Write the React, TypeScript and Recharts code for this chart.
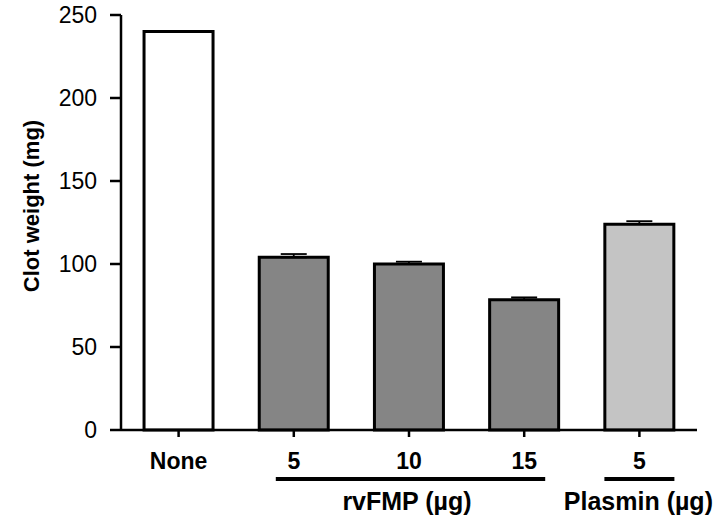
import React from 'react';
import { BarChart, Bar, XAxis, YAxis, Cell, ErrorBar } from 'recharts';

// categories along the x axis (keys must be unique, labels repeat)
const categoryKeys = ['none', 'rv5', 'rv10', 'rv15', 'pl5'];
const categoryLabels = ['None', '5', '10', '15', '5'];
// clot weight (mg) and upper SEM
const clotWeight = [240, 104, 100, 78.5, 124];
const clotError = [0, 2, 1.4, 1.4, 1.8];
const barFills = ['#ffffff', '#858585', '#858585', '#858585', '#c4c4c4'];
const yTicks = [0, 50, 100, 150, 200, 250];

// treatment groups drawn under the tick labels
const groups = [
  { name: 'rvFMP (µg)', from: 1, to: 3, start: -18, end: 21, shift: -2 },
  { name: 'Plasmin (µg)', from: 4, to: 4, start: -35, end: 35, shift: -1 },
];

const data = categoryKeys.map((k, i) => ({
  key: k,
  label: categoryLabels[i],
  weight: clotWeight[i],
  err: [0, clotError[i]],
}));

const FONT = 'Arial, "Liberation Sans", Helvetica, sans-serif';
const BAND = 115.2;

const XTick = ({ x, y, index }: any) => {
  return (
    <g>
      <text
        x={x}
        y={y + 30}
        textAnchor="middle"
        fontFamily={FONT}
        fontSize={23}
        fontWeight="bold"
        fill="#000"
      >
        {categoryLabels[index]}
      </text>
      {groups.map((g) => {
        if (index !== g.from) return null;
        const span = (g.to - g.from) * BAND;
        return (
          <g key={g.name}>
            <line
              x1={x + g.start}
              x2={x + span + g.end}
              y1={y + 40}
              y2={y + 40}
              stroke="#000"
              strokeWidth={4}
            />
            <text
              x={x + span / 2 + g.shift}
              y={y + 71}
              textAnchor="middle"
              fontFamily={FONT}
              fontSize={25}
              fontWeight="bold"
              fill="#000"
            >
              {g.name}
            </text>
          </g>
        );
      })}
    </g>
  );
};

const YLabel = ({ viewBox }: any) => {
  const cx = viewBox.x + 39;
  const cy = 206;
  return (
    <text
      x={cx}
      y={cy}
      transform={`rotate(-90, ${cx}, ${cy})`}
      textAnchor="middle"
      fontFamily={FONT}
      fontSize={22}
      fontWeight="bold"
      fill="#000"
    >
      Clot weight (mg)
    </text>
  );
};

export default function App() {
  return (
    <div style={{ position: 'absolute', left: 0, top: 0, background: '#fff' }}>
      <BarChart
        width={718}
        height={519}
        data={data}
        margin={{ top: 15, right: 21, left: 0, bottom: 0 }}
        barCategoryGap="20%"
      >
        <XAxis
          dataKey="key"
          height={89}
          axisLine={{ stroke: '#000', strokeWidth: 2.5 }}
          tickLine={{ stroke: '#000', strokeWidth: 2.5 }}
          tickSize={7}
          tick={<XTick />}
          interval={0}
        />
        <YAxis
          width={121}
          domain={[0, 250]}
          ticks={yTicks}
          axisLine={{ stroke: '#000', strokeWidth: 2.5 }}
          tickLine={{ stroke: '#000', strokeWidth: 2.5 }}
          tickSize={11}
          tickMargin={13}
          tick={{ fill: '#000', fontSize: 23, fontFamily: FONT }}
          label={{ content: <YLabel /> }}
        />
        <Bar dataKey="weight" stroke="#000" strokeWidth={3} isAnimationActive={false}>
          {data.map((d, i) => (
            <Cell key={d.key} fill={barFills[i]} />
          ))}
          <ErrorBar dataKey="err" width={13} stroke="#000" strokeWidth={1.8} />
        </Bar>
      </BarChart>
    </div>
  );
}
